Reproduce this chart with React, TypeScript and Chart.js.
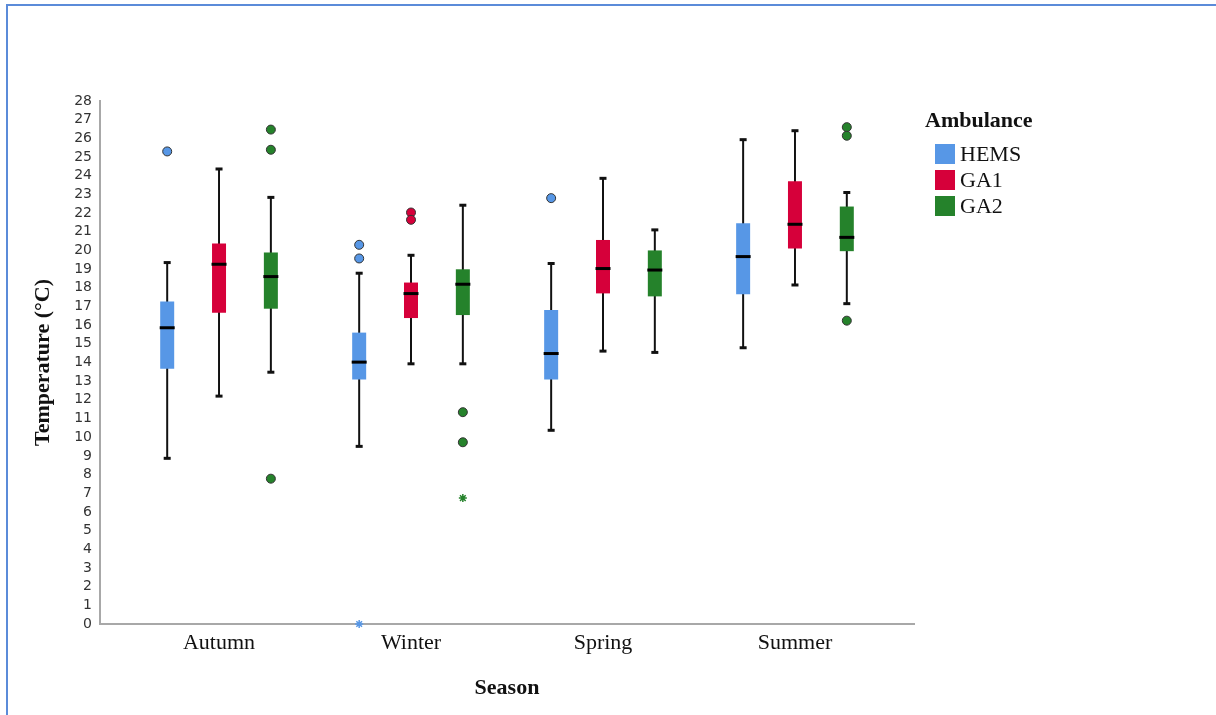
import React, { useEffect, useRef } from 'react';
import { Chart, registerables } from 'chart.js';

Chart.register(...registerables);

// ---- data ----
const seasons = ['Autumn', 'Winter', 'Spring', 'Summer'];
const seriesNames = ['HEMS', 'GA1', 'GA2'];
const seriesColors = ['#5797e6', '#d6003a', '#25822b'];
const yMin = 0;
const yMax = 28;
const yStep = 1;

// box-plot statistics per season (Autumn, Winter, Spring, Summer)
const hemsMin = [8.87, 9.51, 10.37, 14.79];
const hemsQ1 = [13.66, 13.09, 13.09, 17.65];
const hemsMedian = [15.86, 14.02, 14.48, 19.67];
const hemsQ3 = [17.26, 15.6, 16.81, 21.46];
const hemsMax = [19.35, 18.78, 19.3, 25.93];

const ga1Min = [12.2, 13.93, 14.61, 18.15];
const ga1Q1 = [16.67, 16.38, 17.7, 20.1];
const ga1Median = [19.26, 17.69, 19.03, 21.4];
const ga1Q3 = [20.37, 18.28, 20.56, 23.7];
const ga1Max = [24.36, 19.74, 23.86, 26.41];

const ga2Min = [13.48, 13.93, 14.54, 17.15];
const ga2Q1 = [16.88, 16.54, 17.54, 19.96];
const ga2Median = [18.6, 18.19, 18.95, 20.7];
const ga2Q3 = [19.89, 18.99, 20.0, 22.35];
const ga2Max = [22.84, 22.42, 21.1, 23.1];

// outliers: [season index, value]
const hemsOutliers = [[0, 25.3], [1, 20.3], [1, 19.57], [2, 22.8]];
const ga1Outliers = [[1, 22.03], [1, 21.64]];
const ga2Outliers = [[0, 26.47], [0, 25.39], [0, 7.78], [1, 11.34], [1, 9.73], [3, 26.6], [3, 26.14], [3, 16.24]];

// extreme values (stars): [season index, value]
const hemsExtremes = [[1, 0]];
const ga1Extremes: number[][] = [];
const ga2Extremes = [[1, 6.74]];

// ---- layout helpers (not data) ----
const groupOffsets = [-0.27, 0, 0.27];
const serifFamily = "'Liberation Serif', 'Times New Roman', serif";

const stats = [
  { min: hemsMin, q1: hemsQ1, med: hemsMedian, q3: hemsQ3, max: hemsMax, out: hemsOutliers, ext: hemsExtremes },
  { min: ga1Min, q1: ga1Q1, med: ga1Median, q3: ga1Q3, max: ga1Max, out: ga1Outliers, ext: ga1Extremes },
  { min: ga2Min, q1: ga2Q1, med: ga2Median, q3: ga2Q3, max: ga2Max, out: ga2Outliers, ext: ga2Extremes },
];

export default function App() {
  const ref = useRef<HTMLCanvasElement>(null);

  useEffect(() => {
    const datasets: any[] = [];
    stats.forEach((st, s) => {
      const off = groupOffsets[s];
      const color = seriesColors[s];
      // whisker line
      datasets.push({
        type: 'bar',
        label: seriesNames[s] + ' whisker',
        data: seasons.map((_, i) => ({ x: i + off, y: [st.min[i], st.max[i]] })),
        backgroundColor: '#111111',
        maxBarThickness: 2,
        grouped: false,
        order: 50,
      });
      // box
      datasets.push({
        type: 'bar',
        label: seriesNames[s],
        data: seasons.map((_, i) => ({ x: i + off, y: [st.q1[i], st.q3[i]] })),
        backgroundColor: color,
        borderWidth: 0,
        maxBarThickness: 14,
        grouped: false,
        order: 40,
      });
      // caps
      const caps: any[] = [];
      seasons.forEach((_, i) => {
        caps.push({ x: i + off, y: st.min[i] });
        caps.push({ x: i + off, y: st.max[i] });
      });
      datasets.push({
        type: 'scatter',
        label: seriesNames[s] + ' caps',
        data: caps,
        pointStyle: 'line',
        pointRadius: 3.5,
        pointBorderWidth: 3,
        pointBorderColor: '#111111',
        order: 30,
      });
      // median
      datasets.push({
        type: 'scatter',
        label: seriesNames[s] + ' median',
        data: seasons.map((_, i) => ({ x: i + off, y: st.med[i] })),
        pointStyle: 'line',
        pointRadius: 7.5,
        pointBorderWidth: 3,
        pointBorderColor: '#000000',
        order: 20,
      });
      // outliers
      datasets.push({
        type: 'scatter',
        label: seriesNames[s] + ' outliers',
        data: st.out.map(([i, v]) => ({ x: i + off, y: v })),
        pointStyle: 'circle',
        pointRadius: 4.5,
        pointBackgroundColor: color,
        pointBorderColor: '#333333',
        pointBorderWidth: 1,
        clip: false,
        order: 10,
      });
      // extremes
      datasets.push({
        type: 'scatter',
        label: seriesNames[s] + ' extremes',
        data: st.ext.map(([i, v]) => ({ x: i + off, y: v })),
        pointStyle: 'star',
        pointRadius: 4,
        pointBackgroundColor: color,
        pointBorderColor: color,
        pointBorderWidth: 1.5,
        clip: false,
        order: 10,
      });
    });

    const chart = new Chart(ref.current as HTMLCanvasElement, {
      type: 'bar',
      data: { datasets },
      options: {
        animation: false,
        responsive: false,
        devicePixelRatio: 1,
        layout: { padding: { left: 30, top: 101, right: 302, bottom: 0 } },
        plugins: {
          legend: { display: false },
          tooltip: { enabled: false },
        },
        scales: {
          x: {
            type: 'linear',
            offset: false,
            min: -0.62,
            max: 3.62,
            afterBuildTicks: (sc: any) => {
              sc.ticks = seasons.map((_, i) => ({ value: i }));
            },
            afterFit: (sc: any) => {
              sc.height = 91;
            },
            ticks: {
              autoSkip: false,
              maxRotation: 0,
              padding: 6,
              color: '#111111',
              font: { family: serifFamily, size: 22 },
              callback: (v: any) => seasons[v] ?? '',
            },
            grid: { display: false, drawTicks: false, offset: false },
            border: { display: true, color: '#a8a8a8', width: 2 },
            title: {
              display: true,
              text: 'Season',
              color: '#111111',
              font: { family: serifFamily, size: 22, weight: 'bold' },
              padding: { top: 0, bottom: 13 },
            },
          },
          y: {
            type: 'linear',
            min: yMin,
            max: yMax,
            afterFit: (sc: any) => {
              sc.width = 70;
            },
            ticks: {
              stepSize: yStep,
              autoSkip: false,
              padding: 8,
              color: '#333333',
              font: { family: "'DejaVu Sans', sans-serif", size: 14 },
            },
            grid: { display: false, drawTicks: false },
            border: { display: true, color: '#a8a8a8', width: 2 },
            title: {
              display: true,
              text: 'Temperature (°C)',
              color: '#111111',
              font: { family: serifFamily, size: 22, weight: 'bold' },
              padding: { top: 0, bottom: 0 },
            },
          },
        },
      } as any,
    });
    return () => chart.destroy();
  }, []);

  return (
    <div style={{ position: 'fixed', left: 0, top: 0, width: 1216, height: 715, overflow: 'hidden', background: '#ffffff' }}>
      <div style={{ position: 'absolute', left: 6, top: 4, width: 1300, height: 800, border: '2px solid #5b8bd9' }} />
      <canvas ref={ref} width={1216} height={715} style={{ position: 'absolute', left: 0, top: 0, width: 1216, height: 715 }} />
      <div style={{ position: 'absolute', left: 925, top: 107, fontFamily: serifFamily, color: '#111111' }}>
        <div style={{ fontSize: 22, lineHeight: '26px', height: 26, fontWeight: 'bold', whiteSpace: 'nowrap' }}>Ambulance</div>
        <div style={{ height: 8 }} />
        {seriesNames.map((n, s) => (
          <div key={n} style={{ display: 'flex', alignItems: 'center', height: 26, marginLeft: 10, fontSize: 22, lineHeight: '26px', whiteSpace: 'nowrap' }}>
            <span style={{ display: 'inline-block', width: 20, height: 20, background: seriesColors[s], marginRight: 5 }} />
            <span>{n}</span>
          </div>
        ))}
      </div>
    </div>
  );
}
